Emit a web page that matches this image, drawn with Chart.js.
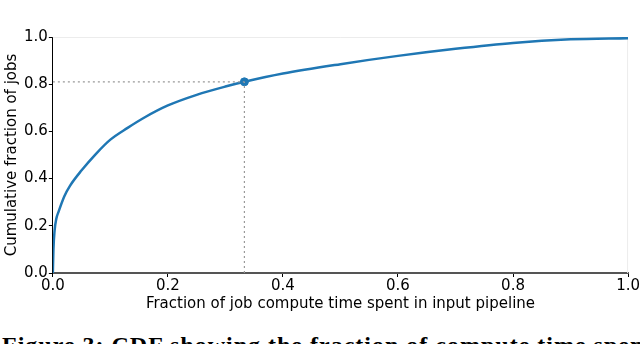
<!DOCTYPE html>
<html>
<head>
<meta charset="utf-8">
<script src="https://cdn.jsdelivr.net/npm/chart.js@4/dist/chart.umd.min.js"></script>
<style>
  body { margin: 0; background: #fff; }
  #wrap { position: relative; width: 640px; height: 344px; overflow: hidden; }
  #chartbox { position: absolute; left: 0; top: 0; width: 640px; height: 313px; }
  #caption { position: absolute; left: 2px; top: 332px; font-family: "Liberation Serif", serif; font-size: 24px; font-weight: bold; color: #000; white-space: nowrap; letter-spacing: 1px; }
</style>
</head>
<body>
<div id="wrap">
  <div id="chartbox"><canvas id="myChart"></canvas></div>
  <div id="caption">Figure 3: CDF showing the fraction of compute time spent in the</div>
</div>
<script>
// CDF
var fracTime = [0, 0.001, 0.003, 0.006, 0.01, 0.02, 0.03, 0.05, 0.075, 0.1, 0.13, 0.16, 0.2, 0.25, 0.3, 0.333, 0.4, 0.5, 0.6, 0.7, 0.8, 0.9, 1.0];
var fracJobs = [0, 0.1, 0.18, 0.23, 0.26, 0.325, 0.37, 0.435, 0.505, 0.565, 0.615, 0.66, 0.71, 0.755, 0.79, 0.81, 0.845, 0.885, 0.92, 0.95, 0.975, 0.99, 0.995];
var markX = 0.333;
var markY = 0.81;
var tickValues = [0, 0.2, 0.4, 0.6, 0.8, 1.0];

var blue = '#1f77b4';
var curve = [];
for (var i = 0; i < fracTime.length; i++) {
    curve.push({x: fracTime[i], y: fracJobs[i]});
}

// faint frame on top and right
var framePlugin = {
    id: 'frame',
    beforeDatasetsDraw: function(chart) {
        var a = chart.chartArea, ctx = chart.ctx;
        ctx.save();
        ctx.strokeStyle = '#ececec';
        ctx.lineWidth = 1;
        ctx.beginPath();
        ctx.moveTo(a.left, a.top + 0.5);
        ctx.lineTo(a.right - 0.5, a.top + 0.5);
        ctx.lineTo(a.right - 0.5, a.bottom);
        ctx.stroke();
        ctx.restore();
    }
};

var axisFont = {family: 'DejaVu Sans', size: 15};
var titleFont = {family: 'DejaVu Sans', size: 15};

new Chart(document.getElementById('myChart'), {
    type: 'scatter',
    data: {
        datasets: [
            {
                data: [{x: 0, y: markY}, {x: markX, y: markY}],
                showLine: true, borderColor: '#999', borderWidth: 1.2, borderDash: [2, 3],
                pointRadius: 0
            },
            {
                data: [{x: markX, y: 0}, {x: markX, y: markY}],
                showLine: true, borderColor: '#999', borderWidth: 1.2, borderDash: [2, 3],
                pointRadius: 0
            },
            {
                data: curve,
                showLine: true, borderColor: blue, borderWidth: 2.5,
                pointRadius: 0, cubicInterpolationMode: 'monotone'
            },
            {
                data: [{x: markX, y: markY}],
                backgroundColor: blue, borderColor: blue, pointRadius: 4
            }
        ]
    },
    options: {
        responsive: true,
        maintainAspectRatio: false,
        animation: false,
        layout: {padding: {left: 3, right: 10, top: 37, bottom: 0}},
        plugins: {legend: {display: false}, tooltip: {enabled: false}},
        scales: {
            x: {
                type: 'linear', min: 0, max: 1,
                afterBuildTicks: function(ax) { ax.ticks = tickValues.map(function(v) { return {value: v}; }); },
                grid: {drawOnChartArea: false, color: '#000', tickLength: 4},
                border: {color: '#555', width: 2},
                ticks: {color: '#000', font: axisFont, padding: 0, maxRotation: 0,
                        callback: function(v) { return v.toFixed(1); }},
                title: {display: true, text: 'Fraction of job compute time spent in input pipeline',
                        color: '#000', font: titleFont, padding: {top: 0, bottom: 0}}
            },
            y: {
                type: 'linear', min: 0, max: 1,
                afterBuildTicks: function(ax) { ax.ticks = tickValues.map(function(v) { return {value: v}; }); },
                grid: {drawOnChartArea: false, color: '#000', tickLength: 4},
                border: {color: '#000', width: 1},
                ticks: {color: '#000', font: axisFont, padding: 1,
                        callback: function(v) { return v.toFixed(1); }},
                title: {display: true, text: 'Cumulative fraction of jobs',
                        color: '#000', font: titleFont, padding: {top: 0, bottom: 2}}
            }
        }
    },
    plugins: [framePlugin]
});
</script>
</body>
</html>
